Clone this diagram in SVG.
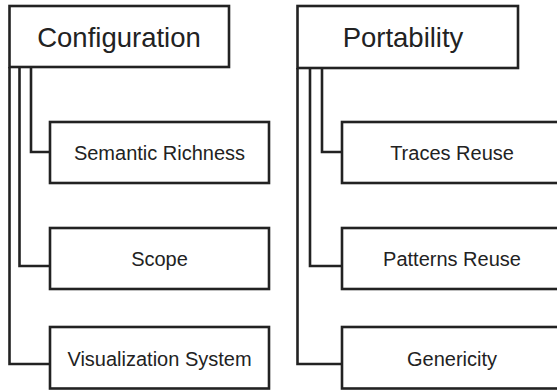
<svg xmlns="http://www.w3.org/2000/svg" width="557" height="390" viewBox="0 0 557 390">
<style>
.box{fill:#fff;stroke:#222;stroke-width:2.6}
.con{fill:none;stroke:#222;stroke-width:2.6}
.t{font-family:"Liberation Sans",Arial,sans-serif;fill:#222;text-anchor:middle}
.h{font-size:27.5px}
.c{font-size:20px}
</style>
<rect width="557" height="390" fill="#fff"/>
<g id="connectors">
<path class="con" d="M9.5,67 V364 H50"/>
<path class="con" d="M19.5,67 V266 H50"/>
<path class="con" d="M31,67 V152 H50"/>
<path class="con" d="M297.5,68 V364 H342"/>
<path class="con" d="M310,68 V266 H342"/>
<path class="con" d="M322,68 V152 H342"/>
</g>
<g id="configuration"><rect class="box" x="9.5" y="6" width="219.5" height="61"/><text class="t h" x="119" y="47">Configuration</text></g>
<g id="semantic-richness"><rect class="box" x="50" y="122" width="219" height="61"/><text class="t c" x="159.5" y="159.5">Semantic Richness</text></g>
<g id="scope"><rect class="box" x="50" y="228" width="219" height="61"/><text class="t c" x="159.5" y="265.5">Scope</text></g>
<g id="visualization-system"><rect class="box" x="50" y="327" width="219" height="61.5"/><text class="t c" x="159.5" y="366">Visualization System</text></g>
<g id="portability"><rect class="box" x="297.5" y="6" width="220.5" height="62"/><text class="t h" x="403" y="47">Portability</text></g>
<g id="traces-reuse"><rect class="box" x="342" y="122" width="230" height="61"/><text class="t c" x="452" y="159.5">Traces Reuse</text></g>
<g id="patterns-reuse"><rect class="box" x="342" y="228" width="230" height="61"/><text class="t c" x="452" y="265.5">Patterns Reuse</text></g>
<g id="genericity"><rect class="box" x="342" y="327" width="230" height="61.5"/><text class="t c" x="452" y="366">Genericity</text></g>
</svg>
